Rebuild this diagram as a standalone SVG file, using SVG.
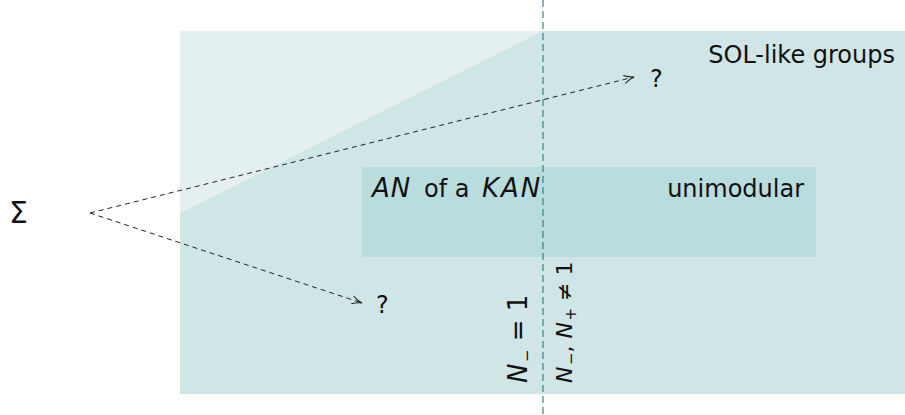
<svg xmlns="http://www.w3.org/2000/svg" width="905" height="415" viewBox="0 0 905 415">
<style>
text{font-family:"DejaVu Sans","Noto Sans",sans-serif;font-size:24px;fill:#111}
.it{font-style:italic;letter-spacing:1.5px}
.sub{font-size:15px}
.dash{fill:none;stroke:#222;stroke-width:1;stroke-dasharray:5,4}
</style>
<defs>
<marker id="arr" viewBox="0 0 12 12" refX="11" refY="6" markerWidth="12" markerHeight="12" markerUnits="userSpaceOnUse" orient="auto">
<path d="M1,2 Q6,5 11,6 Q6,7 1,10" fill="none" stroke="#222" stroke-width="1"/>
</marker>
</defs>
<g id="sol">
<rect x="180" y="31" width="725" height="363" fill="#cfe5e6"/>
<polygon points="180,31 543,31 180,213" fill="#e4f0f0"/>
<text x="895" y="63" text-anchor="end">SOL-like groups</text>
</g>
<g id="unimodular">
<rect x="362" y="167" width="454" height="90" fill="#b9dcdd"/>
<text y="197"><tspan class="it" x="372" style="font-size:26px;letter-spacing:1px">AN</tspan><tspan x="424">of a</tspan><tspan class="it" x="482" style="font-size:26px;letter-spacing:2px">KAN</tspan></text>
<text x="804" y="197" text-anchor="end">unimodular</text>
</g>
<g id="divider">
<line x1="543" y1="0" x2="543" y2="415" stroke="#2a8a8a" stroke-width="1.2" stroke-dasharray="7,4"/>
<text transform="translate(527,383) rotate(-90)" style="font-size:26px"><tspan class="it">N</tspan><tspan class="sub" dy="5">−</tspan><tspan dy="-5"> = 1</tspan></text>
<text transform="translate(572,383) rotate(-90)" style="font-size:22px"><tspan class="it">N</tspan><tspan class="sub" dy="4">−</tspan><tspan dy="-4">, </tspan><tspan class="it">N</tspan><tspan class="sub" dy="4">+</tspan><tspan dy="-4"> ≠ 1</tspan></text>
</g>
<g id="sigma"><text x="9" y="223" style="font-size:30px">Σ</text></g>
<g id="q1"><text x="650" y="87">?</text></g>
<g id="q2"><text x="376" y="313">?</text></g>
<g id="connectors">
<line class="dash" x1="90" y1="213" x2="634" y2="77" marker-end="url(#arr)"/>
<line class="dash" x1="90" y1="213" x2="362" y2="303" marker-end="url(#arr)"/>
</g>
</svg>
